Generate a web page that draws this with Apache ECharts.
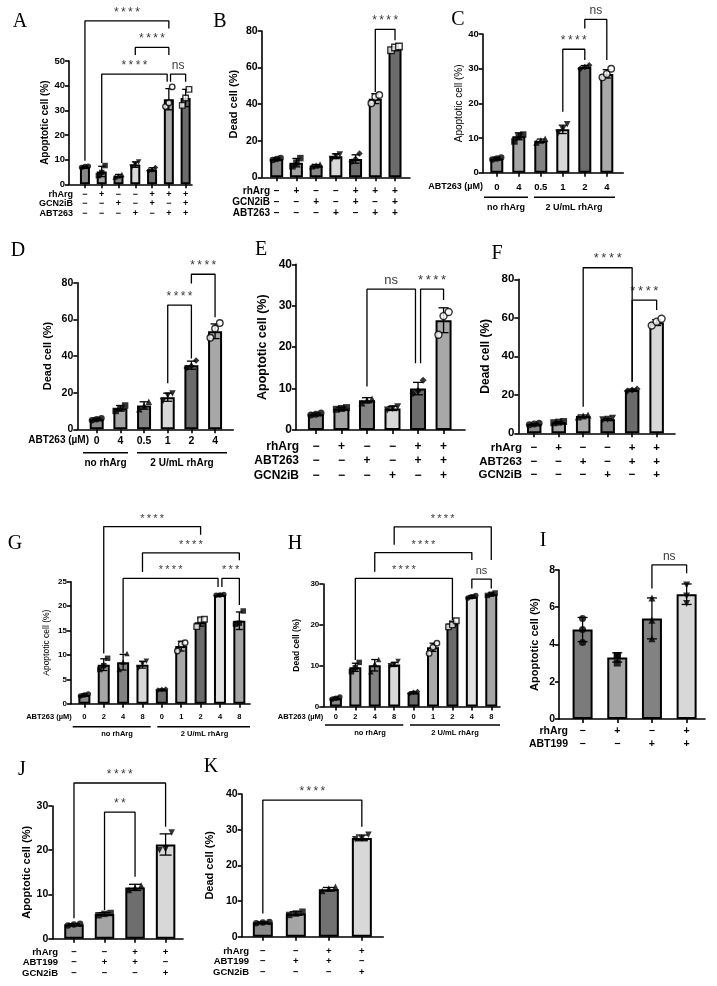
<!DOCTYPE html>
<html><head><meta charset="utf-8">
<script src="https://cdn.jsdelivr.net/npm/echarts@6/dist/echarts.min.js"></script>
<style>html,body{margin:0;padding:0;background:#fff}#c{width:717px;height:986px}</style>
</head><body><div id="c"></div>
<script>
// ---------------- DATA ----------------
// Panel A
const rowsA = ['rhArg', 'GCN2iB', 'ABT263'];
const signsA = [['−','+','−','−','+','+','+'], ['−','−','+','−','+','−','+'], ['−','−','−','+','−','+','+']];
const meanA = [7, 5.2, 3.5, 8, 6, 34.5, 35];
const sdA = [0.3, 2.1, 0.5, 1.1, 0.7, 4.3, 3.5];
const ptsA = [[6.8,7.2,7.3],[3.5,4.8,7.6],[3,3.4,4],[7,8,9],[5.5,5.8,6.8],[31.5,33,39.5],[32,35,38.5]];
const brA = [[0,5,66.3,9.5,63.2,'****'],[3,5,55.5,52.4,52.4,'****'],[1,4.9,44.7,8.6,41.6,'****'],[5.1,6,44.7,41.6,41.6,'ns']];
// Panel B
const rowsB = ['rhArg', 'GCN2iB', 'ABT263'];
const signsB = [['−','+','−','−','+','+','+'], ['−','−','+','−','+','−','+'], ['−','−','−','+','−','+','+']];
const meanB = [10, 8, 6.5, 11.5, 10, 43, 70.5];
const sdB = [0.5, 2.3, 0.5, 1.3, 2.3, 2.7, 1];
const ptsB = [[9.5,10,10.5],[6,8,10.5],[6,6.5,7],[10,11.5,12.5],[8.5,10,13],[40.5,44,45],[69.5,71,71.5]];
const brB = [[5,6,80.9,46.6,75,'****']];
// Panel C
const labelsC = ['0','4','0.5','1','2','4'];
const meanC = [4.1, 10.5, 9.2, 12.5, 30.5, 28.5];
const sdC = [0.3, 1, 0.5, 1.2, 0.4, 1.2];
const ptsC = [[3.8,4.1,4.4],[9,10.5,11],[8.7,9.3,9.8],[11.5,12.5,14],[30,30.5,31],[27.5,28.5,30]];
const brC = [[3,4,35.6,17.6,32.5,'****'],[4,5,44.2,41.6,32.5,'ns']];
// Panel D
const labelsD = ['0','4','0.5','1','2','4'];
const meanD = [5.5, 11.5, 13, 17.5, 35, 53.5];
const sdD = [0.6, 1.5, 2, 2.2, 2.2, 4];
const ptsD = [[5,5.5,6],[10,11.5,13],[11,13,15],[15.5,18.5,19.5],[33.5,34.5,37.5],[50,55,58]];
const brD = [[3,4,67.8,25.1,38.7,'****'],[4,5,84.6,79.6,61.1,'****']];
// Panel E
const rowsE = ['rhArg', 'ABT263', 'GCN2iB'];
const signsE = [['−','+','−','−','+','+'], ['−','−','+','−','+','+'], ['−','−','−','+','−','+']];
const meanE = [3.8, 5.2, 7.2, 5.2, 10, 26.5];
const sdE = [0.3, 0.3, 0.6, 0.5, 1.5, 3];
const ptsE = [[3.6,3.8,4.1],[5,5.2,5.4],[6.5,7.2,7.5],[4.8,5.2,5.6],[8.8,9.5,12],[23,27.5,28.5]];
const brE = [[2,3.9,34,10.5,16.1,'ns'],[4.1,5,34,16.1,31.4,'****']];
// Panel F
const rowsF = ['rhArg', 'ABT263', 'GCN2iB'];
const signsF = [['−','+','−','−','+','+'], ['−','−','+','−','+','+'], ['−','−','−','+','−','+']];
const meanF = [4.8, 5.8, 9, 7.3, 22.5, 57.5];
const sdF = [0.3, 0.3, 0.5, 0.4, 0.5, 1.5];
const ptsF = [[4.5,4.8,5.2],[5.5,5.8,6.1],[8.5,9,9.5],[7,7.3,7.8],[22,22.5,23],[56,58,59.5]];
const brF = [[2,4,86,13.8,26.8,'****'],[4,5,69.2,26.8,64,'****']];
// Panel G
const labelsG = ['0','2','4','8','0','1','2','4','8'];
const meanG = [1.8, 8, 8.5, 8, 2.9, 11.8, 16.7, 22.3, 17];
const sdG = [0.2, 1.2, 1.6, 0.7, 0.1, 1, 0.8, 0.15, 1.8];
const ptsG = [[1.6,1.8,2],[7,7.8,9.3],[7,8.5,10.3],[7.3,8.2,8.7],[2.8,2.9,3],[10.8,12.2,12.5],[15.8,17.2,17.3],[22.2,22.3,22.4],[16.3,16.5,19]];
const brG = [[1,6,36.3,10.3,34.6,'****'],[3,8,30.9,27,29.4,'****'],[2,6.9,25.7,10.3,23.9,'****'],[7.1,8,25.7,23.9,20.2,'***']];
// Panel H
const labelsH = ['0','2','4','8','0','1','2','4','8'];
const meanH = [2, 9.6, 10.1, 10.3, 3.4, 14.5, 20.3, 26.9, 27.5];
const sdH = [0.3, 1, 1.4, 0.5, 0.2, 1, 0.6, 0.3, 0.3];
const ptsH = [[1.8,2,2.3],[8.5,9.5,10.8],[8.5,10.5,11.5],[10,10.3,11],[3.2,3.5,3.7],[13,14.5,15.5],[19.5,20,21],[26.6,26.9,27.2],[27.2,27.5,27.8]];
const brH = [[3,8,44,39.6,35.9,'****'],[2,7,37.7,33,35.9,'****'],[1,6,31.4,11.4,21.2,'****'],[7,8,31.2,28.9,28.9,'ns']];
// Panel I
const rowsI = ['rhArg', 'ABT199'];
const signsI = [['−','+','−','+'], ['−','−','+','+']];
const meanI = [4.8, 3.3, 5.4, 6.7];
const sdI = [0.65, 0.25, 1.1, 0.55];
const ptsI = [[4.1,4.8,5.4],[3,3.4,3.4],[4.3,5.3,6.5],[6.2,6.6,7.2]];
const brI = [[2,3,8.27,7.0,7.83,'ns']];
// Panel J
const rowsJ = ['rhArg', 'ABT199', 'GCN2iB'];
const signsJ = [['−','−','+','+'], ['−','+','+','−'], ['−','−','−','+']];
const meanJ = [3.2, 5.6, 11.6, 21.3];
const sdJ = [0.2, 0.3, 0.7, 2.4];
const ptsJ = [[3,3.2,3.4],[5.3,5.6,5.8],[11,11.6,12],[20,20.2,24]];
const brJ = [[0,3,35.2,4.6,25.3,'****'],[1,2,28.6,6.5,14,'**']];
// Panel K
const rowsK = ['rhArg', 'ABT199', 'GCN2iB'];
const signsK = [['−','−','+','+'], ['−','+','+','−'], ['−','−','−','+']];
const meanK = [4, 6.5, 13.3, 27.7];
const sdK = [0.15, 0.5, 0.5, 0.8];
const ptsK = [[3.8,4,4.1],[6.1,6.5,7],[12.8,13.5,14],[27.3,27.5,28.6]];
const brK = [[0,3,38.3,6.5,30.8,'****']];

// ---------------- LAYOUT / STYLE ----------------
const FONT = '"Liberation Sans", Arial, sans-serif';
const SERIF = '"Liberation Serif", "Times New Roman", serif';
function signLabels(signs) {
  return signs[0].map((_, j) => signs.map(r => r[j]).join('\n'));
}
const G6 = ['#8a8a8a','#a5a5a5','#838383','#d8d8d8','#6b6b6b','#a8a8a8'];
const panels = [
  {letter:'A', lx:20, ly:22, grid:[69,61,123,123.3], xr:[-0.95,6.38], yMax:50, yInt:10, mean:meanA, sd:sdA, pts:ptsA, br:brA,
   labels:signLabels(signsA), rows:rowsA, rowX:73, colors:['#878787','#a4a4a4','#8a8a8a','#d9d9d9','#6e6e6e','#a8a8a8','#6c6c6c'],
   barW:10, cap:7, sym:5.5, tf:9.5, lf:9, lh:9.7, lm:5, yName:'Apoptotic cell (%)', ynf:10, ynGap:16, ynBold:true, sf:12, jit:0.2},
  {letter:'B', lx:220, ly:22, grid:[261.7,31,148.3,146.3], xr:[-0.76,6.76], yMax:80, yInt:20, mean:meanB, sd:sdB, pts:ptsB, br:brB,
   labels:signLabels(signsB), rows:rowsB, rowX:270, colors:['#878787','#a4a4a4','#8a8a8a','#d9d9d9','#6e6e6e','#a8a8a8','#6c6c6c'],
   barW:13, cap:8, sym:6.5, tf:10.5, lf:10, lh:10.8, lm:9, yName:'Dead cell (%)', ynf:11, ynGap:22, ynBold:true, sf:12, jit:0.2},
  {letter:'C', lx:458, ly:20, grid:[482.7,34,140.6,138.7], xr:[-0.64,5.75], yMax:40, yInt:10, mean:meanC, sd:sdC, pts:ptsC, br:brC,
   labels:labelsC, colors:G6, barW:13, cap:8, sym:6.5, tf:9.5, lf:9.5, lh:10, lm:9.5, yName:'Apoptotic cell (%)', ynf:10, ynGap:14.5, ynBold:false, sf:12, jit:0.2},
  {letter:'D', lx:18, ly:251, grid:[77.3,282.7,156,146.6], xr:[-0.82,5.77], yMax:80, yInt:20, mean:meanD, sd:sdD, pts:ptsD, br:brD,
   labels:labelsD, colors:G6, barW:14, cap:9, sym:6.5, tf:10.5, lf:10.5, lh:10, lm:6.5, yName:'Dead cell (%)', ynf:11, ynGap:23.5, ynBold:true, sf:12, jit:0.2},
  {letter:'E', lx:261, ly:250, grid:[296,264.3,169,165.7], xr:[-0.78,5.84], yMax:40, yInt:10, mean:meanE, sd:sdE, pts:ptsE, br:brE,
   labels:signLabels(signsE), rows:rowsE, rowX:299, colors:['#898989','#a5a5a5','#838383','#d8d8d8','#6b6b6b','#a8a8a8'],
   barW:16, cap:10, sym:7, tf:12, lf:12, lh:14.2, lm:9.7, yName:'Apoptotic cell (%)', ynf:12.5, ynGap:27, ynBold:true, sf:13, jit:0.2},
  {letter:'F', lx:497, ly:254, grid:[518.3,279.3,156.7,154], xr:[-0.65,5.75], yMax:80, yInt:20, mean:meanF, sd:sdF, pts:ptsF, br:brF,
   labels:signLabels(signsF), rows:rowsF, rowX:522, colors:['#898989','#a5a5a5','#a8a8a8','#7a7a7a','#6b6b6b','#d8d8d8'],
   barW:14.5, cap:9, sym:7, tf:11.5, lf:11.5, lh:13.3, lm:8.3, yName:'Dead cell (%)', ynf:12, ynGap:27, ynBold:true, sf:13, jit:0.2},
  {letter:'G', lx:15, ly:544, grid:[71,581.7,179,122], xr:[-0.69,8.55], yMax:25, yInt:5, mean:meanG, sd:sdG, pts:ptsG, br:brG,
   labels:labelsG, colors:['#898989','#a5a5a5','#838383','#d8d8d8','#6b6b6b','#a8a8a8','#6b6b6b','#e2e2e2','#a5a5a5'],
   barW:12, cap:7, sym:5.5, tf:8, lf:7.5, lh:9, lm:8.5, yName:'Apoptotic cell (%)', ynf:8.5, ynGap:20, ynBold:false, sf:11, jit:0.2},
  {letter:'H', lx:295, ly:544, grid:[323.3,584,176.7,122.5], xr:[-0.65,8.45], yMax:30, yInt:10, mean:meanH, sd:sdH, pts:ptsH, br:brH,
   labels:labelsH, colors:['#898989','#a5a5a5','#838383','#d8d8d8','#6b6b6b','#a8a8a8','#6b6b6b','#e2e2e2','#a5a5a5'],
   barW:12, cap:7, sym:5.5, tf:8, lf:7.5, lh:9, lm:6, yName:'Dead cell (%)', ynf:8.5, ynGap:22, ynBold:true, sf:11, jit:0.2},
  {letter:'I', lx:543, ly:541, grid:[559,570,146,148.9], xr:[-0.68,3.53], yMax:8, yInt:2, mean:meanI, sd:sdI, pts:ptsI, br:brI,
   labels:signLabels(signsI), rows:rowsI, rowX:568, colors:['#7b7b7b','#a5a5a5','#828282','#d8d8d8'],
   barW:20, cap:10, sym:7, tf:10.5, lf:10.5, lh:13, lm:5.5, yName:'Apoptotic cell (%)', ynf:11, ynGap:18.5, ynBold:true, sf:12, jit:0},
  {letter:'J', lx:22, ly:770, grid:[52.3,806,130.7,132.7], xr:[-0.71,3.57], yMax:30, yInt:10, mean:meanJ, sd:sdJ, pts:ptsJ, br:brJ,
   labels:signLabels(signsJ), rows:rowsJ, rowX:58, colors:['#898989','#a5a5a5','#6e6e6e','#d8d8d8'],
   barW:19.5, cap:12, sym:6.5, tf:10.5, lf:9.5, lh:10.5, lm:8, yName:'Apoptotic cell (%)', ynf:11, ynGap:20, ynBold:true, sf:12, jit:0.2},
  {letter:'K', lx:211, ly:767, grid:[241.7,794,141.6,142.7], xr:[-0.64,3.65], yMax:40, yInt:10, mean:meanK, sd:sdK, pts:ptsK, br:brK,
   labels:signLabels(signsK), rows:rowsK, rowX:249, colors:['#898989','#a5a5a5','#727272','#d8d8d8'],
   barW:20, cap:12, sym:6.5, tf:10.5, lf:9.5, lh:10.5, lm:9, yName:'Dead cell (%)', ynf:11, ynGap:26, ynBold:true, sf:12, jit:0.2}
];
// point marker styles by group position
const SYMS = [
  {s:'circle'}, {s:'rect'}, {s:'triangle'}, {s:'triangle', r:180}, {s:'diamond'},
  {s:'circle', o:true}, {s:'rect', o:true}, {s:'circle'}, {s:'rect'}
];
// extra annotation texts and group underlines: [text, x, y, size, align]
const extraTexts = [
  ['ABT263 (µM)', 483, 186.7, 9, 'right'], ['no rhArg', 506, 207.5, 9, 'center'], ['2 U/mL rhArg', 574, 207.5, 9, 'center'],
  ['ABT263 (µM)', 89, 440.7, 10, 'right'], ['no rhArg', 105.5, 463.5, 10, 'center'], ['2 U/mL rhArg', 182, 463.5, 10, 'center'],
  ['ABT263 (µM)', 71.7, 716.7, 7.5, 'right'], ['no rhArg', 117, 734.3, 7.5, 'center'], ['2 U/mL rhArg', 204.5, 734.3, 7.5, 'center'],
  ['ABT263 (µM)', 323.3, 716.7, 7.5, 'right'], ['no rhArg', 370, 733.3, 7.5, 'center'], ['2 U/mL rhArg', 455, 733.3, 7.5, 'center']
];
const extraLines = [
  [484,528,197.3],[534,615,197.3],
  [83,128,452.7],[137,227,452.7],
  [72.7,150.7,726.7],[157.3,250,726.7],
  [325,403.3,725],[410,500,725]
];

// ---------------- BUILD ----------------
const chart = echarts.init(document.getElementById('c'), null, {renderer:'canvas', width:717, height:986});
const option = {animation:false, backgroundColor:'#fff', grid:[], xAxis:[], yAxis:[], series:[], graphic:[]};
panels.forEach((p, i) => {
  const [gl, gt, gw, gh] = p.grid;
  option.grid.push({left:gl, top:gt, width:gw, height:gh});
  const idx = p.mean.map((_, j) => j);
  const axisLine = {show:true, onZero:false, lineStyle:{color:'#000', width:1.6}};
  const tick = {show:true, length:4, lineStyle:{color:'#000', width:1.6}};
  option.xAxis.push({gridIndex:i, type:'value', min:p.xr[0], max:p.xr[1], axisLine:axisLine,
    axisTick:Object.assign({customValues:idx}, tick),
    axisLabel:{customValues:idx, formatter:v => p.labels[Math.round(v)] || '', fontSize:p.lf, fontWeight:'bold',
      fontFamily:FONT, color:'#000', lineHeight:p.lh, margin:p.lm},
    splitLine:{show:false}});
  option.yAxis.push({gridIndex:i, type:'value', min:0, max:p.yMax, interval:p.yInt, axisLine:axisLine, axisTick:tick,
    axisLabel:{fontSize:p.tf, fontWeight:'bold', fontFamily:FONT, color:'#000', margin:4},
    splitLine:{show:false}, name:p.yName, nameLocation:'middle', nameGap:p.ynGap, nameRotate:90,
    nameTextStyle:{fontSize:p.ynf, fontWeight:p.ynBold ? 'bold' : 'normal', fontFamily:FONT, color:'#000'}});
  // bars
  option.series.push({type:'bar', xAxisIndex:i, yAxisIndex:i, barWidth:p.barW, z:2,
    itemStyle:{borderColor:'#000', borderWidth:2},
    data:p.mean.map((m, j) => ({value:[j, m], itemStyle:{color:p.colors[j]}}))});
  // error bars
  const cap = p.cap;
  option.series.push({type:'custom', xAxisIndex:i, yAxisIndex:i, z:3,
    data:p.mean.map((m, j) => [j, m - p.sd[j], m + p.sd[j]]),
    renderItem:(params, api) => {
      const x = api.value(0);
      const lo = api.coord([x, api.value(1)]);
      const hi = api.coord([x, api.value(2)]);
      const st = {stroke:'#000', lineWidth:1.3};
      return {type:'group', children:[
        {type:'line', shape:{x1:lo[0], y1:lo[1], x2:hi[0], y2:hi[1]}, style:st},
        {type:'line', shape:{x1:hi[0]-cap/2, y1:hi[1], x2:hi[0]+cap/2, y2:hi[1]}, style:st},
        {type:'line', shape:{x1:lo[0]-cap/2, y1:lo[1], x2:lo[0]+cap/2, y2:lo[1]}, style:st}
      ]};
    }});
  // individual points
  const offs = [-p.jit, 0, p.jit];
  const pdata = [];
  p.pts.forEach((arr, j) => {
    const sy = SYMS[j % SYMS.length];
    arr.forEach((v, k) => {
      pdata.push({value:[j + offs[k], v], symbol:sy.s, symbolRotate:sy.r || 0,
        itemStyle:{color:sy.o ? '#fff' : '#000', borderColor:'#000', borderWidth:sy.o ? 1.4 : 0}});
    });
  });
  option.series.push({type:'scatter', xAxisIndex:i, yAxisIndex:i, symbolSize:p.sym, z:4, data:pdata});
  // significance brackets
  p.br.forEach(b => {
    option.series.push({type:'line', xAxisIndex:i, yAxisIndex:i, symbol:'none', clip:false, silent:true, z:5,
      lineStyle:{color:'#000', width:1.3},
      data:[[b[0], b[3]], [b[0], b[2]], [b[1], b[2]], [b[1], b[4]]]});
  });
  option.series.push({type:'scatter', xAxisIndex:i, yAxisIndex:i, clip:false, silent:true, z:6, symbolSize:1,
    itemStyle:{color:'rgba(0,0,0,0)'},
    label:{show:true, position:'top', distance:2, fontSize:p.sf, fontFamily:FONT, color:'#000',
      formatter:prm => prm.name.indexOf('*') >= 0 ? prm.name.split('').join('\u2009') : prm.name},
    data:p.br.map(b => ({name:b[5], value:[(b[0] + b[1]) / 2, b[2]]}))});
  // panel letter
  option.graphic.push({type:'text', x:p.lx, y:p.ly, silent:true,
    style:{text:p.letter, fontSize:20, fontFamily:SERIF, fill:'#000', align:'center', verticalAlign:'middle'}});
  // row names
  if (p.rows) {
    option.graphic.push({type:'text', x:p.rowX, y:gt + gh + p.lm, silent:true,
      style:{text:p.rows.join('\n'), fontSize:p.lf, fontWeight:'bold', fontFamily:FONT, lineHeight:p.lh,
        fill:'#000', align:'right', verticalAlign:'top'}});
  }
});
extraTexts.forEach(t => {
  option.graphic.push({type:'text', x:t[1], y:t[2], silent:true,
    style:{text:t[0], fontSize:t[3], fontWeight:'bold', fontFamily:FONT, fill:'#000', align:t[4], verticalAlign:'middle'}});
});
extraLines.forEach(l => {
  option.graphic.push({type:'line', silent:true, shape:{x1:l[0], y1:l[2], x2:l[1], y2:l[2]}, style:{stroke:'#000', lineWidth:1.6}});
});
chart.setOption(option);
</script></body></html>
